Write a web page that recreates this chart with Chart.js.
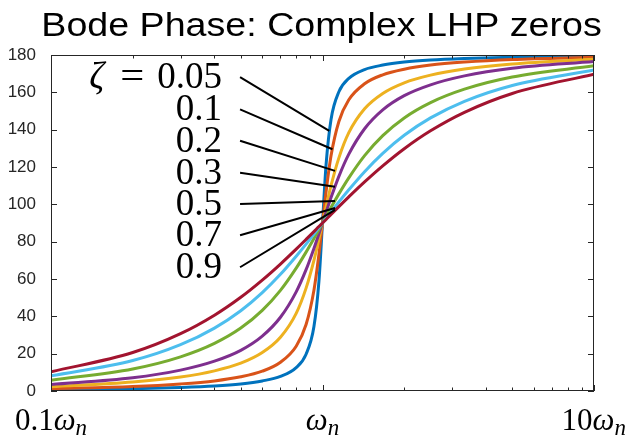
<!DOCTYPE html>
<html>
<head>
<meta charset="utf-8">
<script src="https://cdn.jsdelivr.net/npm/chart.js@4/dist/chart.umd.min.js"></script>
<style>
  html, body { margin: 0; padding: 0; background: #fff; }
</style>
</head>
<body>
<canvas id="bode-chart" width="625" height="439"></canvas>
<script>
// frequencies, in units of omega_n
const freqs = [0.1, 0.2, 0.3, 0.4, 0.5, 0.6, 0.7, 0.8, 0.87, 0.93, 0.97, 1, 1.031, 1.075, 1.149, 1.25, 1.429, 1.667, 2, 2.5, 3.333, 5, 10];

// phase (deg), one array per damping ratio
const phase005 = [0.6, 1.2, 1.9, 2.7, 3.8, 5.4, 7.8, 12.5, 19.7, 34.5, 58.6, 90, 121.4, 145.5, 160.3, 167.5, 172.2, 174.6, 176.2, 177.3, 178.1, 178.8, 179.4];
const phase01  = [1.2, 2.4, 3.8, 5.4, 7.6, 10.6, 15.4, 24.0, 35.6, 54.0, 73.1, 90, 106.9, 126.0, 144.4, 156.0, 164.6, 169.4, 172.4, 174.6, 176.2, 177.6, 178.8];
const phase02  = [2.3, 4.8, 7.5, 10.8, 14.9, 20.6, 28.8, 41.6, 55.1, 70.0, 81.3, 90, 98.7, 110.0, 124.9, 138.4, 151.2, 159.4, 165.1, 169.2, 172.5, 175.2, 177.7];
const phase03  = [3.5, 7.1, 11.2, 16.0, 21.8, 29.4, 39.5, 53.1, 65.0, 76.4, 84.2, 90, 95.8, 103.6, 115.0, 126.9, 140.5, 150.6, 158.2, 164.0, 168.8, 172.9, 176.5];
const phase05  = [5.8, 11.8, 18.3, 25.5, 33.7, 43.2, 53.9, 65.8, 74.4, 81.7, 86.5, 90, 93.5, 98.3, 105.6, 114.2, 126.1, 136.8, 146.3, 154.5, 161.7, 168.2, 174.2];
const phase07  = [8.1, 16.3, 24.8, 33.7, 43.0, 52.7, 62.5, 72.2, 78.7, 84.1, 87.5, 90, 92.5, 95.9, 101.3, 107.8, 117.5, 127.3, 137.0, 146.3, 155.2, 163.7, 172.0];
const phase09  = [10.3, 20.6, 30.7, 40.6, 50.2, 59.4, 68.0, 76.0, 81.2, 85.4, 88.1, 90, 91.9, 94.6, 98.8, 104.0, 112.0, 120.6, 129.8, 139.4, 149.3, 159.4, 169.7];

const zetaLabels = ['0.05', '0.1', '0.2', '0.3', '0.5', '0.7', '0.9'];
const yTicks = [0, 20, 40, 60, 80, 100, 120, 140, 160, 180];
const xTickLabels = ['0.1', '', '10'];   // prefix before omega_n at 0.1, 1, 10

// where the label leader lines start and end (data coordinates)
const leadFromX = [0.497, 0.497, 0.497, 0.497, 0.497, 0.497, 0.497];
const leadFromY = [168.1, 150.9, 134.1, 116.9, 100.2, 83.4, 66.3];
const leadToX = [1.059, 1.088, 1.112, 1.112, 1.112, 1.112, 1.112];
const leadToY = [139.4, 129.5, 117.9, 109.4, 101.8, 98.0, 97.0];

const colors = ['#0072BD', '#D95319', '#EDB120', '#7E2F8E', '#77AC30', '#4DBEEE', '#A2142F'];
const allPhases = [phase005, phase01, phase02, phase03, phase05, phase07, phase09];

const serif = '"Liberation Serif", "Times New Roman", serif';
const sans = '"Liberation Sans", Arial, sans-serif';

// box, inside ticks, leader lines, labels and title
const decorations = {
    id: 'decorations',
    afterDraw(chart) {
        const ctx = chart.ctx;
        const area = chart.chartArea;
        const xs = chart.scales.x;
        const ys = chart.scales.y;
        ctx.save();

        // axes box
        ctx.strokeStyle = '#262626';
        ctx.lineWidth = 1;
        ctx.strokeRect(area.left + 0.5, area.top + 0.5, area.right - area.left - 1, area.bottom - area.top - 1);

        // y ticks, both sides
        ctx.beginPath();
        yTicks.forEach(v => {
            const y = Math.round(ys.getPixelForValue(v)) + 0.5;
            ctx.moveTo(area.left, y); ctx.lineTo(area.left + 6, y);
            ctx.moveTo(area.right, y); ctx.lineTo(area.right - 6, y);
        });
        // x ticks, log decades with minor ticks
        [0.1, 1].forEach(dec => {
            for (let k = 1; k <= 10; k++) {
                const v = dec * k;
                const x = Math.round(xs.getPixelForValue(v)) + 0.5;
                const len = (k === 1 || k === 10) ? 6 : 3.5;
                ctx.moveTo(x, area.bottom); ctx.lineTo(x, area.bottom - len);
                ctx.moveTo(x, area.top); ctx.lineTo(x, area.top + len);
            }
        });
        ctx.stroke();

        // leader lines
        ctx.strokeStyle = '#000';
        ctx.lineWidth = 2;
        ctx.beginPath();
        zetaLabels.forEach((lab, i) => {
            ctx.moveTo(xs.getPixelForValue(leadFromX[i]), ys.getPixelForValue(leadFromY[i]));
            ctx.lineTo(xs.getPixelForValue(leadToX[i]), ys.getPixelForValue(leadToY[i]));
        });
        ctx.stroke();

        // zeta labels
        ctx.fillStyle = '#000';
        ctx.textBaseline = 'alphabetic';
        ctx.textAlign = 'right';
        zetaLabels.forEach((lab, i) => {
            const xr = xs.getPixelForValue(leadFromX[i]) - 18;
            const yb = ys.getPixelForValue(leadFromY[i]) + 11;
            ctx.font = '37px ' + serif;
            ctx.fillText(lab, xr, yb);
            if (i === 0) {
                const w = ctx.measureText(lab).width;
                // math-style equals sign, a bit wider than the text one
                ctx.save();
                ctx.translate(xr - w - 13, yb);
                ctx.scale(1.15, 1);
                ctx.fillText('=', 0, 0);
                ctx.restore();
                const we = ctx.measureText('=').width * 1.15;
                ctx.font = 'italic 37px ' + serif;
                ctx.fillText('ζ', xr - w - 13 - we - 16, yb);
            }
        });

        // x tick labels: prefix + omega_n
        ctx.textAlign = 'left';
        [0.1, 1, 10].forEach((v, i) => {
            const size = 31;
            const subSize = 23;
            const pre = xTickLabels[i];
            ctx.font = size + 'px ' + serif;
            const w1 = ctx.measureText(pre).width;
            ctx.font = 'italic ' + size + 'px ' + serif;
            const w2 = ctx.measureText('ω').width;
            ctx.font = 'italic ' + subSize + 'px ' + serif;
            const w3 = ctx.measureText('n').width;
            const total = w1 + w2 + w3;
            let x = xs.getPixelForValue(v) - total / 2;
            x = Math.max(9, Math.min(x, chart.width + 1 - total));
            const yb = 430;
            ctx.font = size + 'px ' + serif;
            ctx.fillText(pre, x, yb);
            ctx.font = 'italic ' + size + 'px ' + serif;
            ctx.fillText('ω', x + w1, yb);
            ctx.font = 'italic ' + subSize + 'px ' + serif;
            ctx.fillText('n', x + w1 + w2, yb + 5);
        });

        // title, stretched a little to match the wider Helvetica
        ctx.textAlign = 'center';
        ctx.font = '33px ' + sans;
        ctx.save();
        ctx.translate(321.5, 36);
        ctx.scale(1.14, 1);
        ctx.fillText('Bode Phase: Complex LHP zeros', 0, 0);
        ctx.restore();

        ctx.restore();
    }
};

const ctx = document.getElementById('bode-chart');
new Chart(ctx, {
    type: 'line',
    data: {
        datasets: allPhases.map((vals, i) => ({
            label: 'zeta = ' + zetaLabels[i],
            data: freqs.map((f, j) => ({ x: f, y: vals[j] })),
            borderColor: colors[i],
            borderWidth: 3,
            pointRadius: 0,
            fill: false,
            cubicInterpolationMode: 'monotone',
            order: allPhases.length - i
        }))
    },
    options: {
        responsive: false,
        animation: false,
        devicePixelRatio: 1,
        layout: { padding: { top: 55, right: 31, left: 0, bottom: 0 } },
        plugins: {
            legend: { display: false },
            tooltip: { enabled: false },
            title: { display: false }
        },
        scales: {
            x: {
                type: 'logarithmic',
                min: 0.1,
                max: 10,
                ticks: { display: false },
                grid: { display: false },
                border: { display: false },
                afterFit: s => { s.height = 48; }
            },
            y: {
                min: 0,
                max: 180,
                ticks: {
                    stepSize: 20,
                    padding: 7,
                    color: '#262626',
                    font: { family: sans, size: 17 }
                },
                grid: { display: false },
                border: { display: false },
                afterFit: s => { s.width = 51; }
            }
        }
    },
    plugins: [decorations]
});
</script>
</body>
</html>
